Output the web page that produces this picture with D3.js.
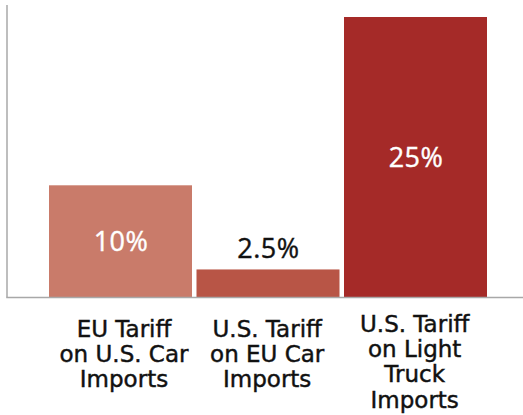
<!DOCTYPE html>
<html>
<head>
<meta charset="utf-8">
<script src="https://cdn.jsdelivr.net/npm/d3@7"></script>
<style>
  html, body { margin: 0; padding: 0; background: #fff; }
  svg { display: block; }
</style>
</head>
<body>
<svg id="chart" width="523" height="415"></svg>
<script>
const categories = ["EU Tariff on U.S. Car Imports", "U.S. Tariff on EU Car Imports", "U.S. Tariff on Light Truck Imports"];
const categoryLines = [
  ["EU Tariff", "on U.S. Car", "Imports"],
  ["U.S. Tariff", "on EU Car", "Imports"],
  ["U.S. Tariff", "on Light", "Truck", "Imports"]
];
const values = [10, 2.5, 25];
const valueLabels = ["10%", "2.5%", "25%"];
const barColors = ["#c97b6a", "#b85546", "#a52a28"];
const labelInside = [true, false, true];

const svg = d3.select("#chart");
const W = 523, H = 415;
const baseY = 297.5, topY = 17;
const axisX = 7;

const x = d3.scaleBand().domain(categories).range([49, 487]).paddingInner(0.0305).paddingOuter(0);
const y = d3.scaleLinear().domain([0, 25]).range([baseY, topY]);

// bars
svg.selectAll("rect.bar").data(values).join("rect")
  .attr("class", "bar")
  .attr("x", (d, i) => x(categories[i]))
  .attr("width", x.bandwidth())
  .attr("y", d => y(d))
  .attr("height", d => baseY - y(d) + 0.5)
  .attr("fill", (d, i) => barColors[i]);

// axes lines
svg.append("line").attr("x1", axisX).attr("x2", axisX).attr("y1", 5).attr("y2", baseY)
  .attr("stroke", "#a8a8a8").attr("stroke-width", 1.5);
svg.append("line").attr("x1", axisX - 0.75).attr("x2", W).attr("y1", baseY).attr("y2", baseY)
  .attr("stroke", "#a8a8a8").attr("stroke-width", 1.5);

// value labels
svg.selectAll("text.val").data(values).join("text")
  .attr("class", "val")
  .attr("x", (d, i) => x(categories[i]) + x.bandwidth() / 2 + 0.5)
  .attr("y", (d, i) => labelInside[i] ? (y(d) + baseY) / 2 + 10 : y(d) - 11.5)
  .attr("text-anchor", "middle")
  .attr("font-family", "'Open Sans', sans-serif")
  .attr("font-size", 27)
  .attr("font-weight", 500)
  .attr("letter-spacing", 0.5)
  .attr("fill", (d, i) => labelInside[i] ? "#ffffff" : "#111111")
  .attr("stroke", (d, i) => labelInside[i] ? "#ffffff" : "#111111")
  .attr("stroke-width", 0.4)
  .text((d, i) => valueLabels[i]);

// category labels
const lineH = 25.3;
const labelDx = [3.5, -0.8, -0.8];
categoryLines.forEach((lines, i) => {
  const cx = x(categories[i]) + x.bandwidth() / 2 + labelDx[i];
  const startY = 336.5 - (lines.length - 3) * 4.8;
  const t = svg.append("text")
    .attr("text-anchor", "middle")
    .attr("font-family", "'DejaVu Sans', sans-serif")
    .attr("font-size", 23)
    .attr("fill", "#111111")
    .attr("stroke", "#111111")
    .attr("stroke-width", 0.45);
  lines.forEach((ln, j) => {
    t.append("tspan").attr("x", cx).attr("y", startY + j * lineH).text(ln);
  });
});
</script>
</body>
</html>
